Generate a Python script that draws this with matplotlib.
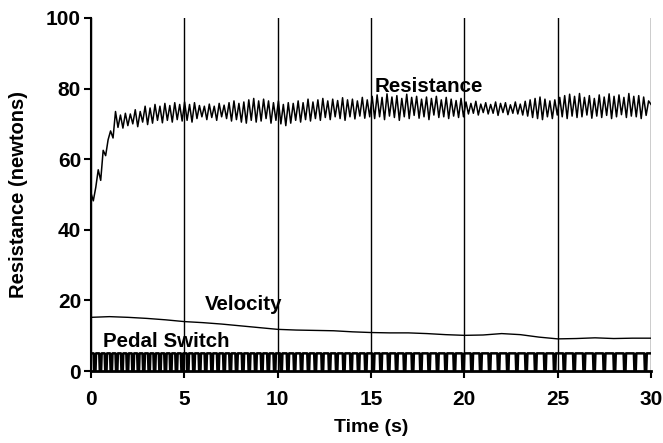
import matplotlib.pyplot as plt
import numpy as np

plt.rcParams['font.family'] = ['Liberation Sans', 'DejaVu Sans']
plt.rcParams['font.weight'] = 'bold'
plt.rcParams['axes.labelweight'] = 'bold'

# resistance trace (newtons), uniformly sampled over 0-30 s
resistance = [
    # start-up
    50.5, 48.2, 52, 57, 54, 62.5, 61, 65.5, 68, 66, 73.5,
    # to 5 s
    69, 72.5, 68.8, 73, 69.5, 72.8, 70, 74, 69.2, 73.5, 70.5, 75, 69.8, 74.5,
    70.2, 75.5, 71, 75, 70.3, 75.8, 71, 75.2, 70.5, 76, 71.2, 75.5, 70.8,
    # 5-10 s
    76.2, 71, 75.5, 70.5, 76, 71.5, 75.2, 72, 75, 71.2, 75.6, 71.8, 75, 71,
    75.8, 72, 75.3, 71.5, 76, 70.8, 76.5, 71.2, 75.8, 70.5, 76.2, 70.2, 76.8,
    71, 77.2, 70.5, 76.5, 70.8, 77, 71.5, 76.5, 70.2, 76, 71,
    # 10-15 s
    76.5, 70, 75.5, 69.5, 76, 70.2, 75.8, 71, 76.5, 70.5, 76, 71.2, 77, 70.8,
    76.2, 71.5, 76.8, 71, 77.2, 71.8, 76.5, 71.2, 77, 72, 76.6, 71.5, 77.4,
    71, 76.8, 72, 77, 71.4, 76.5, 72.2, 77.5, 71.6, 76.8, 72,
    # 15-20 s
    77.8, 71.5, 78.2, 72, 77.5, 71.2, 78.5, 72.2, 77.6, 71.8, 78, 71, 77.2,
    72, 78.4, 71.5, 77.5, 72.4, 77.8, 71.6, 77, 72, 77.6, 71.2, 77.2, 72.5,
    77.8, 71.8, 76.8, 72, 77.5, 71.5, 77, 72.2, 76.6, 71.8, 77.2, 72,
    # 20-25 s
    76.2, 72.8, 75.8, 73, 76.4, 72.5, 75.6, 73.2, 76, 72.8, 75.5, 73, 76.2,
    72.4, 75.8, 73.2, 76, 72.6, 75.4, 73, 76.2, 72.8, 75.6, 72.5, 76.4, 72.2,
    76.8, 71.8, 77.2, 71.5, 77.6, 71.2, 77, 72, 76.5, 71.5, 76.8, 72.5,
    # 25-30 s
    77.5, 72, 78, 71.5, 78.4, 72.2, 77.8, 71.8, 78.6, 72, 77.5, 72.5, 78,
    71.6, 77.2, 72.2, 78.2, 71.8, 77.6, 72.4, 78.5, 71.5, 77.8, 72, 78.2,
    72.6, 77.5, 71.8, 78.6, 72.2, 77.8, 72, 78, 71.5, 77.6, 72.4, 76.5, 75.5,
]

vel_time = list(range(31))
velocity = [15.2, 15.4, 15.2, 14.9, 14.5, 14.0, 13.7, 13.3, 12.8, 12.3,
            11.8, 11.6, 11.5, 11.4, 11.1, 10.9, 10.8, 10.8, 10.6, 10.3,
            10.1, 10.2, 10.6, 10.3, 9.6, 9.1, 9.2, 9.4, 9.2, 9.3, 9.3]

# pedal switch contacts (s)
pedal_events = [
    0.15, 0.45, 0.74, 1.03, 1.32, 1.61, 1.90, 2.19, 2.48, 2.77, 3.06, 3.35,
    3.64, 3.93, 4.22, 4.52, 4.82,
    5.13, 5.45, 5.77, 6.09, 6.42, 6.75, 7.08, 7.41, 7.74, 8.08, 8.42, 8.76,
    9.10, 9.44, 9.78,
    10.13, 10.49, 10.85, 11.22, 11.59, 11.96, 12.34, 12.72, 13.10, 13.49,
    13.88, 14.27, 14.66,
    15.06, 15.47, 15.89, 16.31, 16.74, 17.17, 17.61, 18.05, 18.50, 18.95,
    19.41, 19.87,
    20.34, 20.81, 21.29, 21.77, 22.26, 22.75, 23.25, 23.75, 24.26, 24.77,
    25.29, 25.82, 26.35, 26.89, 27.43, 27.98, 28.53, 29.08, 29.64,
]
pedal_high = 5

res_time = np.linspace(0, 30, len(resistance))

# switch signal sits high and drops briefly at each contact
px, py = [0], [pedal_high]
for t in pedal_events:
    px += [t, t + 0.03, t + 0.10, t + 0.13]
    py += [pedal_high, 0, 0, pedal_high]
px.append(30)
py.append(pedal_high)

fig = plt.figure(figsize=(6.63, 4.43), dpi=100)
ax = fig.add_axes([0.137, 0.1625, 0.845, 0.797])

ax.plot(res_time, resistance, color='black', lw=1.1)
ax.plot(vel_time, velocity, color='black', lw=1.0)
ax.plot(px, py, color='black', lw=1.8)

ax.text(15.2, 80.5, 'Resistance', fontsize=14.8, va='center')
ax.text(6.1, 18.7, 'Velocity', fontsize=14.8, va='center')
ax.text(0.65, 8.3, 'Pedal Switch', fontsize=14.8, va='center')

ax.set_xlim(0, 30)
ax.set_ylim(0, 100)
ax.set_xticks(range(0, 31, 5))
ax.set_yticks(range(0, 101, 20))
ax.tick_params(direction='out', length=5, width=1.5, labelsize=15)
ax.tick_params(axis='x', pad=9)
ax.tick_params(axis='y', pad=2)
ax.xaxis.grid(True, color='black', lw=1.0)
ax.spines['top'].set_visible(False)
ax.spines['right'].set_visible(False)
ax.spines['left'].set_linewidth(1.5)
ax.spines['bottom'].set_linewidth(2.0)

ax.set_xlabel('Time (s)', fontsize=14, labelpad=7)
ax.set_ylabel('Resistance (newtons)', fontsize=14.5, labelpad=13)

fig.savefig('out.png', dpi=100)
